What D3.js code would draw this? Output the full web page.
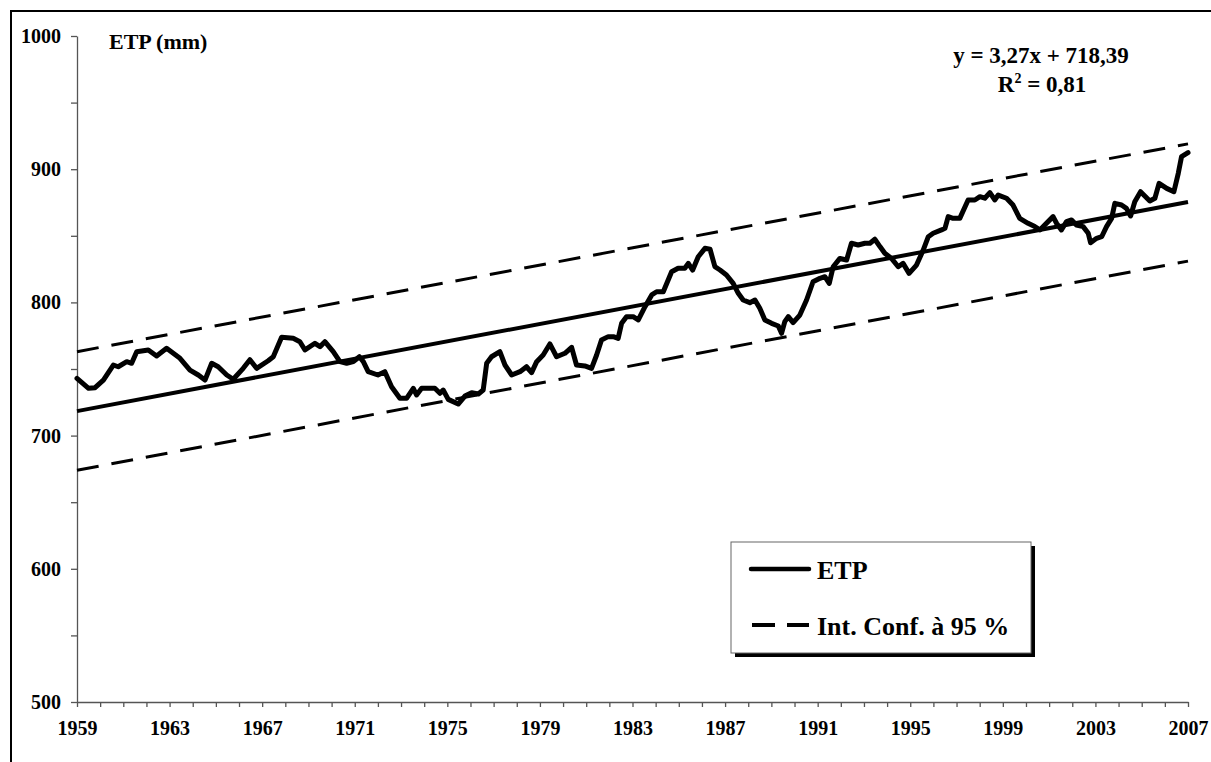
<!DOCTYPE html>
<html>
<head>
<meta charset="utf-8">
<script src="https://cdn.jsdelivr.net/npm/d3@7"></script>
<style>
  body { margin: 0; background: #fff; }
  svg { display: block; }
  text { font-family: "Liberation Serif", "Times New Roman", serif; font-weight: bold; fill: #000; }
  .axis path, .axis line { stroke: #555; stroke-width: 1.3; }
  .axis text { font-size: 20px; font-family: "Liberation Serif", serif; font-weight: bold; fill: #000; }
</style>
</head>
<body>
<div id="chart"></div>
<script>
// ETP curve (sliding annual total)
const etpYears = [
  1959.0, 1959.5, 1959.78, 1960.14, 1960.57, 1960.78, 1961.15, 1961.36, 1961.58, 1962.08,
  1962.44, 1962.87, 1963.45, 1963.88, 1964.24, 1964.53, 1964.82, 1965.1, 1965.47, 1965.75,
  1966.18, 1966.47, 1966.76, 1967.26, 1967.48, 1967.84, 1968.34, 1968.63, 1968.85, 1969.28,
  1969.5, 1969.71, 1970.07, 1970.36, 1970.65, 1970.94, 1971.2, 1971.37, 1971.58, 1972.0,
  1972.3, 1972.59, 1972.95, 1973.24, 1973.53, 1973.67, 1973.89, 1974.46, 1974.68, 1974.82,
  1975.04, 1975.47, 1975.76, 1976.05, 1976.34, 1976.55, 1976.7, 1976.91, 1977.27, 1977.49,
  1977.78, 1978.14, 1978.42, 1978.64, 1978.86, 1979.14, 1979.43, 1979.72, 1980.08, 1980.37,
  1980.58, 1980.94, 1981.23, 1981.45, 1981.66, 1981.95, 1982.17, 1982.38, 1982.53, 1982.74,
  1983.03, 1983.25, 1983.54, 1983.83, 1984.04, 1984.33, 1984.69, 1984.97, 1985.26, 1985.41,
  1985.6, 1985.84, 1986.13, 1986.35, 1986.56, 1986.78, 1987.06, 1987.35, 1987.57, 1987.78,
  1988.07, 1988.29, 1988.5, 1988.72, 1989.01, 1989.3, 1989.44, 1989.58, 1989.73, 1989.94,
  1990.23, 1990.52, 1990.8, 1991.1, 1991.31, 1991.5, 1991.67, 1991.96, 1992.25, 1992.46,
  1992.75, 1993.04, 1993.26, 1993.47, 1993.69, 1993.9, 1994.19, 1994.48, 1994.69, 1994.95,
  1995.27, 1995.56, 1995.78, 1995.99, 1996.35, 1996.5, 1996.64, 1996.85, 1997.14, 1997.5,
  1997.79, 1998.01, 1998.22, 1998.44, 1998.65, 1998.8, 1999.16, 1999.44, 1999.73, 2000.09,
  2000.38, 2000.6, 2000.81, 2001.17, 2001.32, 2001.53, 2001.75, 2001.97, 2002.18, 2002.47,
  2002.69, 2002.79, 2003.05, 2003.27, 2003.48, 2003.7, 2003.84, 2004.13, 2004.34, 2004.52,
  2004.7, 2004.95, 2005.35, 2005.57, 2005.75, 2006.08, 2006.39, 2006.58, 2006.72, 2007.0
];
const etpValues = [
  743, 735.5, 736, 741.7, 753, 751.7, 755.5, 754.3, 763, 764.3,
  759.8, 765.5, 758, 749.2, 745.5, 741.7, 754.3, 751.7, 745.5, 742.3,
  750.5, 757, 750.5, 756.2, 759.2, 773.8, 773, 770.5, 764.3, 769.3,
  766.8, 770.5, 763, 755.5, 754.3, 755.5, 759.2, 755.5, 748, 745.5,
  748, 736.7, 728, 728, 735.5, 730.5, 735.5, 735.5, 731.8, 734.2,
  727.2, 723.7, 729.7, 732.2, 731.2, 734.2, 754.3, 759.2, 763, 753,
  745.5, 748, 751.7, 747.3, 755.5, 760.5, 768.8, 759.2, 761.8, 766.3,
  753, 752.3, 750.5, 760.5, 771.8, 774.3, 774.3, 773, 784.3, 789.3,
  789.3, 786.8, 796.8, 805.6, 808, 808, 823, 825.6, 825.6, 829.3,
  824.3, 834.3, 840.6, 839.9, 826.8, 824.3, 820.6, 814.3, 806.8, 801.8,
  799.8, 801.8, 795.6, 786.8, 784.3, 782.3, 776.8, 785.6, 789.3, 784.8,
  790.5, 801.8, 815.5, 818.1, 819.3, 814.3, 826.8, 833, 831.8, 844.4,
  843.1, 844.4, 844.4, 847.4, 841.9, 836.9, 833, 826.8, 829.3, 821.8,
  828, 839.3, 849.3, 851.9, 854.4, 855.6, 864.4, 863.1, 863.1, 876.9,
  876.9, 879.4, 878.2, 882.4, 876.9, 880.6, 878.2, 873.1, 863.1, 859.4,
  856.9, 854.4, 858.1, 864.4, 859.4, 854.4, 860.6, 861.9, 858.1, 856.9,
  851.9, 844.8, 848.1, 849.3, 856.9, 863.1, 874.4, 873.1, 870.6, 864.9,
  875.6, 883.1, 876.1, 878.2, 889.4, 885.6, 883.1, 896.9, 909.4, 912.4
];

// trend line and 95 % confidence band, end values
const trendYears = [1959, 2007];
const trendValues = [718.4, 875.4];
const upperValues = [763, 919];
const lowerValues = [674, 831];

const xTickYears = d3.range(1959, 2008);
const xLabelYears = [1959, 1963, 1967, 1971, 1975, 1979, 1983, 1987, 1991, 1995, 1999, 2003, 2007];
const yTicks = [500, 550, 600, 650, 700, 750, 800, 850, 900, 950, 1000];
const yLabels = [500, 600, 700, 800, 900, 1000];

const legendLabels = ["ETP", "Int. Conf. à 95 %"];

const W = 1211, H = 762;
const margin = { top: 36, right: 23, bottom: 60, left: 77 };

const svg = d3.select("#chart").append("svg")
  .attr("width", W)
  .attr("height", H);

// outer frame (only top and left edges show)
svg.append("rect")
  .attr("x", 11).attr("y", 11)
  .attr("width", 1400).attr("height", 1000)
  .attr("fill", "none")
  .attr("stroke", "#000")
  .attr("stroke-width", 2);

const x = d3.scaleLinear().domain([1959, 2007]).range([margin.left, W - margin.right]);
const y = d3.scaleLinear().domain([500, 1000]).range([H - margin.bottom, margin.top]);

// axes
svg.append("g")
  .attr("class", "axis")
  .attr("transform", `translate(${margin.left},0)`)
  .call(d3.axisLeft(y)
    .tickValues(yTicks)
    .tickFormat((d) => (yLabels.includes(d) ? d : ""))
    .tickSize(6)
    .tickSizeOuter(0)
    .tickPadding(10));

svg.append("g")
  .attr("class", "axis")
  .attr("transform", `translate(0,${H - margin.bottom})`)
  .call(d3.axisBottom(x)
    .tickValues(xTickYears)
    .tickFormat((d) => (xLabelYears.includes(d) ? d : ""))
    .tickSize(5)
    .tickSizeOuter(0)
    .tickPadding(14));

const line = d3.line().x((d) => x(d[0])).y((d) => y(d[1]));

// confidence band
[upperValues, lowerValues].forEach((vals) => {
  svg.append("path")
    .datum(trendYears.map((t, i) => [t, vals[i]]))
    .attr("d", line)
    .attr("fill", "none")
    .attr("stroke", "#000")
    .attr("stroke-width", 3)
    .attr("stroke-dasharray", "22,13");
});

// trend
svg.append("path")
  .datum(trendYears.map((t, i) => [t, trendValues[i]]))
  .attr("d", line)
  .attr("fill", "none")
  .attr("stroke", "#000")
  .attr("stroke-width", 4);

// ETP
svg.append("path")
  .datum(etpYears.map((t, i) => [t, etpValues[i]]))
  .attr("d", line)
  .attr("fill", "none")
  .attr("stroke", "#000")
  .attr("stroke-width", 5)
  .attr("stroke-linejoin", "round")
  .attr("stroke-linecap", "round");

// titles
svg.append("text")
  .attr("x", 109).attr("y", 49)
  .style("font-size", "22px")
  .text("ETP (mm)");

svg.append("text")
  .attr("x", 1041).attr("y", 63)
  .attr("text-anchor", "middle")
  .style("font-size", "23px")
  .text("y = 3,27x + 718,39");
const r2 = svg.append("text")
  .attr("x", 1042).attr("y", 92)
  .attr("text-anchor", "middle")
  .style("font-size", "23px");
r2.append("tspan").text("R");
r2.append("tspan").attr("dy", -9).style("font-size", "14px").text("2");
r2.append("tspan").attr("dy", 9).text(" = 0,81");

// legend
const lg = svg.append("g").attr("transform", "translate(731,542)");
lg.append("rect")
  .attr("x", 4).attr("y", 4)
  .attr("width", 300).attr("height", 111)
  .attr("fill", "#000");
lg.append("rect")
  .attr("width", 300).attr("height", 111)
  .attr("fill", "#fff")
  .attr("stroke", "#666")
  .attr("stroke-width", 1);

lg.append("line")
  .attr("x1", 20).attr("x2", 78).attr("y1", 27).attr("y2", 27)
  .attr("stroke", "#000").attr("stroke-width", 4.5)
  .attr("stroke-linecap", "round");
lg.append("line")
  .attr("x1", 21).attr("x2", 78).attr("y1", 83).attr("y2", 83)
  .attr("stroke", "#000").attr("stroke-width", 4)
  .attr("stroke-dasharray", "23,12");

lg.selectAll("text.leg")
  .data(legendLabels)
  .join("text")
  .attr("class", "leg")
  .attr("x", 86)
  .attr("y", (d, i) => 37 + i * 56)
  .style("font-size", "26px")
  .text((d) => d);
</script>
</body>
</html>
